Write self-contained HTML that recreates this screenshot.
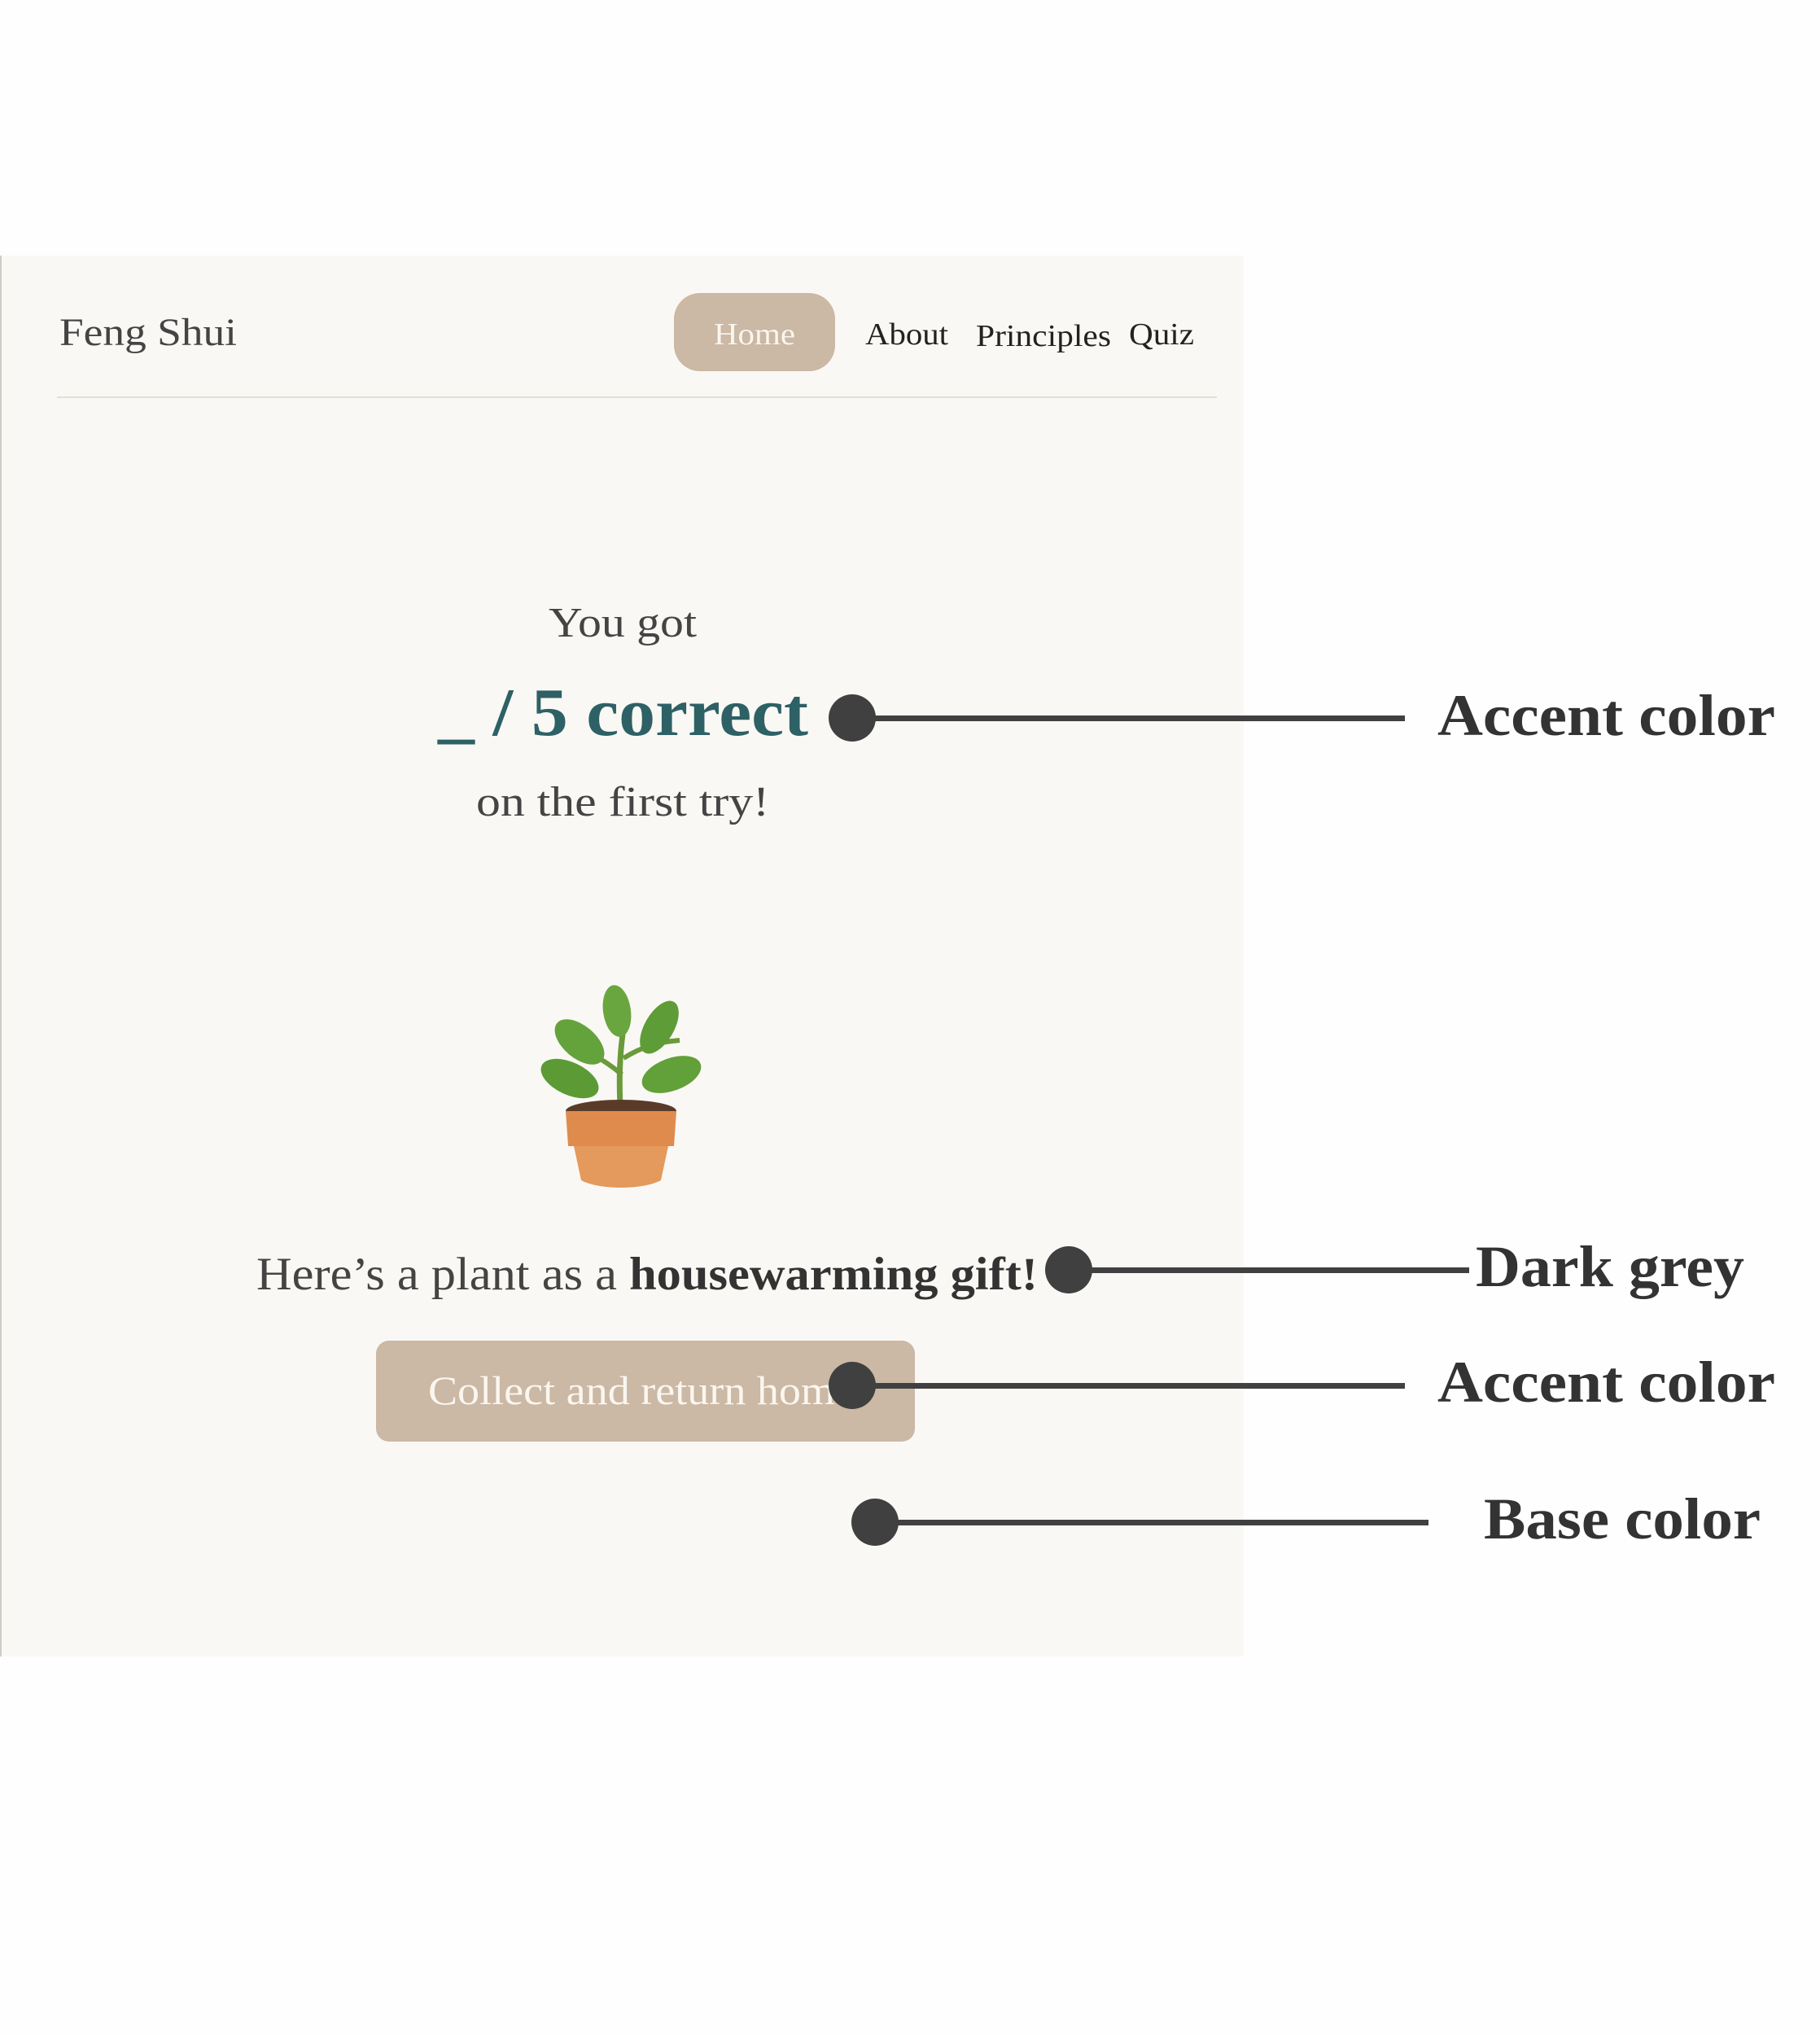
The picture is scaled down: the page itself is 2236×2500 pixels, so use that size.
<!DOCTYPE html>
<html><head><meta charset="utf-8"><style>
html,body{margin:0;padding:0;background:#fff;}
svg{display:block;}
text{font-family:"Liberation Serif",serif;}
</style></head><body>
<svg width="2236" height="2500" viewBox="0 0 2236 2500" xmlns="http://www.w3.org/2000/svg">
  <rect x="0" y="0" width="2236" height="2500" fill="#fefefe"/>
  <g>
    <rect x="0" y="314" width="1528" height="1721" fill="#faf8f4"/>
    <rect x="0" y="314" width="2" height="1721" fill="#cfcbc5"/>
    <text x="73" y="424" font-size="48" fill="#444" textLength="218" lengthAdjust="spacingAndGlyphs">Feng Shui</text>
    <g>
      <rect x="828" y="360" width="198" height="96" rx="32" fill="#cbb8a5"/>
      <text x="927" y="423" font-size="38" fill="#faf6f0" text-anchor="middle" textLength="100" lengthAdjust="spacingAndGlyphs">Home</text>
    </g>
    <text x="1063" y="423" font-size="38" fill="#222" textLength="102" lengthAdjust="spacingAndGlyphs">About</text>
    <text x="1199" y="425" font-size="38" fill="#222" textLength="166" lengthAdjust="spacingAndGlyphs">Principles</text>
    <text x="1387" y="423" font-size="38" fill="#222" textLength="80" lengthAdjust="spacingAndGlyphs">Quiz</text>
    <rect x="70" y="487" width="1425" height="2" fill="#e2ded8"/>
    <text x="765" y="782" font-size="52" fill="#444" text-anchor="middle" textLength="182" lengthAdjust="spacingAndGlyphs">You got</text>
    <text x="538" y="903" font-size="84" font-weight="bold" fill="#2d6166" textLength="455" lengthAdjust="spacingAndGlyphs">_ / 5 correct</text>
    <text x="765" y="1002" font-size="52" fill="#444" text-anchor="middle" textLength="360" lengthAdjust="spacingAndGlyphs">on the first try!</text>
    <g>
      <path d="M763 1380 C760 1330 760 1290 770 1240" stroke="#6a9a3a" stroke-width="7" fill="none"/>
      <path d="M764 1320 C740 1300 720 1290 700 1285" stroke="#6a9a3a" stroke-width="6" fill="none"/>
      <path d="M766 1300 C790 1285 810 1280 835 1278" stroke="#6a9a3a" stroke-width="6" fill="none"/>
      <ellipse cx="758" cy="1242" rx="17" ry="32" fill="#6aa640" transform="rotate(-8 758 1242)"/>
      <ellipse cx="810" cy="1262" rx="18" ry="36" fill="#5e9c38" transform="rotate(30 810 1262)"/>
      <ellipse cx="712" cy="1280" rx="20" ry="36" fill="#64a23c" transform="rotate(-50 712 1280)"/>
      <ellipse cx="700" cy="1325" rx="20" ry="38" fill="#5c9a36" transform="rotate(-65 700 1325)"/>
      <ellipse cx="825" cy="1320" rx="20" ry="38" fill="#62a03a" transform="rotate(70 825 1320)"/>
      <ellipse cx="763" cy="1365" rx="68" ry="14" fill="#5a3b2a"/>
      <path d="M695 1365 L831 1365 L828 1408 L698 1408 Z" fill="#e08b4e"/>
      <path d="M705 1408 L821 1408 L812 1450 C790 1462 736 1462 714 1450 Z" fill="#e39a5c"/>
    </g>
    <text x="315" y="1584" font-size="57" fill="#444" textLength="960" lengthAdjust="spacingAndGlyphs">Here’s a plant as a <tspan font-weight="bold" fill="#333">housewarming gift!</tspan></text>
    <g>
      <rect x="462" y="1647" width="662" height="124" rx="16" fill="#cbb8a5"/>
      <text x="526" y="1725" font-size="50" fill="#faf6f0" textLength="500" lengthAdjust="spacingAndGlyphs">Collect and return hom</text>
    </g>
  </g>
  <g fill="#404040">
    <g>
      <rect x="1047" y="879" width="679" height="7"/>
      <circle cx="1047" cy="882" r="29"/>
      <text x="1766" y="903" font-size="72" font-weight="bold" fill="#333" textLength="415" lengthAdjust="spacingAndGlyphs">Accent color</text>
    </g>
    <g>
      <rect x="1313" y="1557" width="492" height="7"/>
      <circle cx="1313" cy="1560" r="29"/>
      <text x="1813" y="1580" font-size="72" font-weight="bold" fill="#333" textLength="330" lengthAdjust="spacingAndGlyphs">Dark grey</text>
    </g>
    <g>
      <rect x="1047" y="1699" width="679" height="7"/>
      <circle cx="1047" cy="1702" r="29"/>
      <text x="1766" y="1722" font-size="72" font-weight="bold" fill="#333" textLength="415" lengthAdjust="spacingAndGlyphs">Accent color</text>
    </g>
    <g>
      <rect x="1075" y="1867" width="680" height="7"/>
      <circle cx="1075" cy="1870" r="29"/>
      <text x="1823" y="1890" font-size="72" font-weight="bold" fill="#333" textLength="340" lengthAdjust="spacingAndGlyphs">Base color</text>
    </g>
  </g>
</svg>
</body></html>
